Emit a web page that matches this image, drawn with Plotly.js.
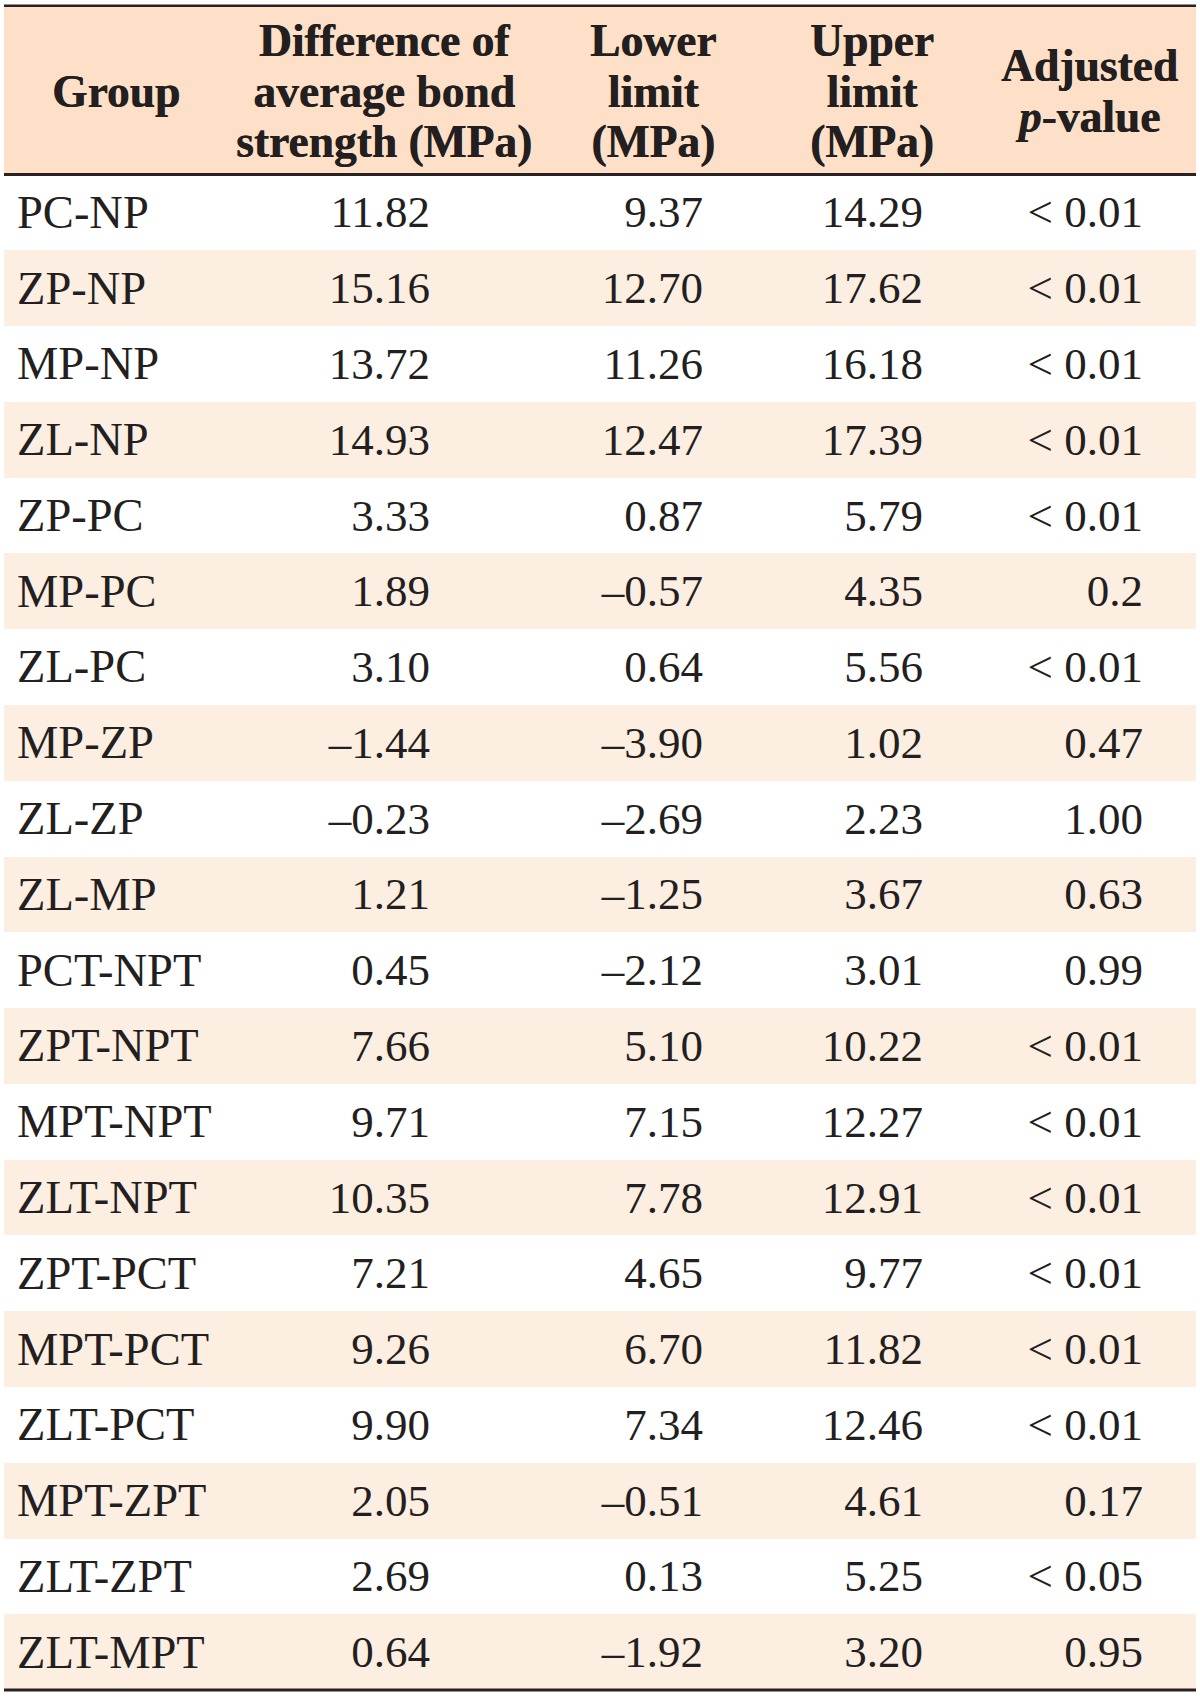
<!DOCTYPE html>
<html>
<head>
<meta charset="utf-8">
<script src="https://cdn.plot.ly/plotly-3.0.1.min.js"></script>
<style>
  body { margin: 0; background: #fff; }
  #tbl { width: 1200px; height: 1698px; }
</style>
</head>
<body>
<div id="tbl"></div>
<script>
var groups = ['PC-NP', 'ZP-NP', 'MP-NP', 'ZL-NP', 'ZP-PC', 'MP-PC', 'ZL-PC', 'MP-ZP', 'ZL-ZP', 'ZL-MP',
  'PCT-NPT', 'ZPT-NPT', 'MPT-NPT', 'ZLT-NPT', 'ZPT-PCT', 'MPT-PCT', 'ZLT-PCT', 'MPT-ZPT', 'ZLT-ZPT', 'ZLT-MPT'];
var diffMean = [11.82, 15.16, 13.72, 14.93, 3.33, 1.89, 3.10, -1.44, -0.23, 1.21,
  0.45, 7.66, 9.71, 10.35, 7.21, 9.26, 9.90, 2.05, 2.69, 0.64];
var lowerLimit = [9.37, 12.70, 11.26, 12.47, 0.87, -0.57, 0.64, -3.90, -2.69, -1.25,
  -2.12, 5.10, 7.15, 7.78, 4.65, 6.70, 7.34, -0.51, 0.13, -1.92];
var upperLimit = [14.29, 17.62, 16.18, 17.39, 5.79, 4.35, 5.56, 1.02, 2.23, 3.67,
  3.01, 10.22, 12.27, 12.91, 9.77, 11.82, 12.46, 4.61, 5.25, 3.20];
var pValues = ['< 0.01', '< 0.01', '< 0.01', '< 0.01', '< 0.01', '0.2', '< 0.01', '0.47', '1.00', '0.63',
  '0.99', '< 0.01', '< 0.01', '< 0.01', '< 0.01', '< 0.01', '< 0.01', '0.17', '< 0.05', '0.95'];
var headers = [
  ['Group'],
  ['Difference of', 'average bond', 'strength (MPa)'],
  ['Lower', 'limit', '(MPa)'],
  ['Upper', 'limit', '(MPa)'],
  ['Adjusted', '<i>p</i>-value']
];

// page geometry (px)
var W = 1200, H = 1698;
var rowPx = 75.78;        // height of one body row
var headRulePx = 174.5;   // rule under the header
var topRulePx = 5.7;
var left = 4, right = 1196;
var headX = [116, 384, 653, 872, 1089];
var numRight = [430, 703, 923, 1143];
var groupLeft = 17;
var headMidPx = 91;
var headSize = 45.5, headLineGap = 50.5;
var textNudge = 0.05;     // centre digits in the row

var peach = '#fde0c7', peachLight = '#fdeee2', ink = '#231f20', rule = '#2a2220';
var serif = '"Liberation Serif", "Times New Roman", serif';

function px2row(p) { return -0.5 + (p - headRulePx) / rowPx; }
function fmt(v) { return (v < 0 ? '\u2013' : '') + Math.abs(v).toFixed(2); }
function at(v) { return groups.map(function () { return v; }); }

var ys = groups.map(function (g, i) { return i + textNudge; });

var shaded = groups.filter(function (g, i) { return i % 2 === 1; });
var bands = {
  type: 'bar', orientation: 'h',
  y: shaded.map(function (g) { return groups.indexOf(g); }),
  x: shaded.map(function () { return right - left; }),
  base: left, width: 1,
  marker: {color: peachLight, line: {width: 0}},
  hoverinfo: 'skip', showlegend: false
};

function column(x, vals, pos, size) {
  return {
    type: 'scatter', mode: 'text', x: at(x), y: ys, text: vals,
    textposition: pos, textfont: {family: serif, size: size, color: ink},
    marker: {size: 0}, hoverinfo: 'skip', showlegend: false
  };
}

var data = [
  bands,
  column(groupLeft, groups, 'middle right', 46.5),
  column(numRight[0], diffMean.map(fmt), 'middle left', 45),
  column(numRight[1], lowerLimit.map(fmt), 'middle left', 45),
  column(numRight[2], upperLimit.map(fmt), 'middle left', 45),
  column(numRight[3], pValues, 'middle left', 45)
];

// one annotation per header; the outer size sets the line pitch (1.3em),
// the inner span sets the glyph size
var annotations = headers.map(function (lines, c) {
  return {
    x: headX[c], y: px2row(headMidPx), xref: 'x', yref: 'y',
    text: lines.map(function (t) {
      return '<span style="font-size:' + headSize + 'px"><b>' + t + '</b></span>';
    }).join('<br>'),
    showarrow: false, xanchor: 'center', yanchor: 'middle', align: 'center',
    font: {family: serif, size: headLineGap / 1.3, color: ink, shadow: '0.6px 0 0 ' + ink}
  };
});

var shapes = [
  {type: 'rect', xref: 'x', yref: 'y', x0: left, x1: right, y0: px2row(topRulePx), y1: -0.5,
    fillcolor: peach, line: {width: 0}, layer: 'below'},
  {type: 'line', xref: 'x', yref: 'y', x0: left, x1: right, y0: px2row(topRulePx), y1: px2row(topRulePx),
    line: {color: rule, width: 2.6}},
  {type: 'line', xref: 'x', yref: 'y', x0: left, x1: right, y0: -0.5, y1: -0.5,
    line: {color: rule, width: 3}},
  {type: 'line', xref: 'x', yref: 'y', x0: left, x1: right, y0: groups.length - 0.5, y1: groups.length - 0.5,
    line: {color: rule, width: 3}}
];

var layout = {
  width: W, height: H,
  margin: {l: 0, r: 0, t: 0, b: 0},
  paper_bgcolor: '#fff', plot_bgcolor: '#fff',
  xaxis: {range: [0, W], visible: false, fixedrange: true},
  yaxis: {range: [px2row(H), px2row(0)], visible: false, fixedrange: true},
  bargap: 0,
  annotations: annotations,
  shapes: shapes
};

Plotly.newPlot('tbl', data, layout, {staticPlot: true});
</script>
</body>
</html>
